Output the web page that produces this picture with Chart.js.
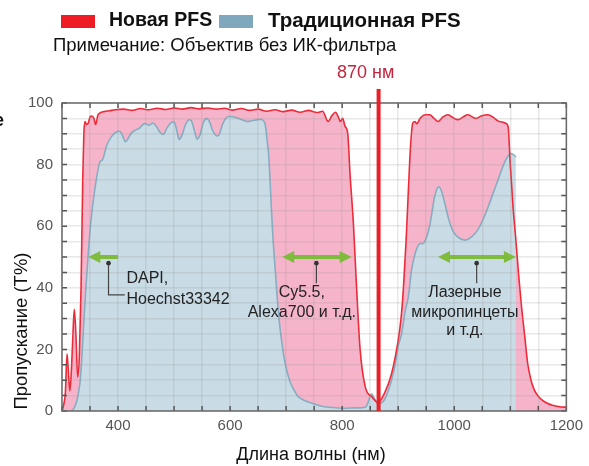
<!DOCTYPE html>
<html lang="ru">
<head>
<meta charset="utf-8">
<script src="https://cdn.jsdelivr.net/npm/chart.js@4.4.1/dist/chart.umd.min.js"></script>
<style>
  html, body { margin: 0; padding: 0; background: #fff; }
  #wrap { width: 589px; height: 466px; }
</style>
</head>
<body>
<div id="wrap"><canvas id="pfsChart" width="589" height="466"></canvas></div>
<script>
const seriesNames = ['Новая PFS', 'Традиционная PFS'];

const newNm = [300,303,306,309,311,314,317,320,322,325,328,331,334,337,339,341,344,347,350,353,357,360,364,368,375,385,395,410,425,440,455,470,485,500,515,530,545,560,575,590,605,620,635,650,665,680,695,710,725,740,755,765,775,782,788,793,797,801,805,810,814,820,826,832,841,853,864,876,888,900,905,909,914,918,922,926,930,933,939,948,956,964,971,980,989,998,1007,1016,1024,1032,1039,1048,1060,1070,1078,1086,1092,1096,1100,1105,1110,1115,1120,1126,1131,1137,1143,1150,1157,1165,1175,1188,1200];
const newT = [0,2,6,18.5,14,6.5,14,27,33,24,11,18,40,75,90,94,93,93.5,95.5,95.8,95,93,96,96.8,97.2,97.5,97.8,98,97.6,98.2,97.8,98.3,97.9,98.4,98,98.5,98.1,98.4,98,98.3,97.7,98.2,97.6,98,97.3,97.8,97.2,97.7,97,97.6,96.9,97.3,94,96,97,95.5,94,95,92.5,90,77,61,39,20,8,4.6,2.8,6,12,23,30,39,55,71,86,93.5,94,93.3,95,96.2,96.2,95,94,95.5,96.2,95.2,94.6,95.5,96.2,95.5,95,95.8,96.2,95.3,94.2,93.8,93.4,92.5,80,66,55.5,44,34,24,15.5,10,6.8,4.8,3.5,2.6,1.9,1.4,1.2];

const oldNm = [317,322,326,329,332,335,338,341,344,347,350,353,356,359,362,365,368,372,375,379,383,388,394,400,405,410,413,417,424,431,438,447,456,462,468,475,481,487,494,500,505,509,514,520,526,531,537,541,546,552,558,563,569,575,580,586,592,598,610,622,630,640,650,657,662,666,669,672,675,678,681,684,687,691,696,702,708,715,722,734,746,760,776,799,820,841,845,848,852,855,859,864,870,876,882,888,894,900,906,912,918,924,930,935,939,945,951,956,959,962,965,969,972,976,980,985,989,995,1000,1010,1021,1031,1042,1051,1060,1069,1078,1086,1092,1097,1101,1105,1110];
const oldT = [0,1,3,5.5,9,16,26,35,43.5,51.5,58.5,64,68.5,72.5,76,79,81,81.5,83,85.8,87.5,89,90.2,90.8,90.5,88.5,87.4,88.2,90.3,91.2,91.8,93.3,92.8,93.5,92.5,90.5,89.8,91.8,93.5,93.8,91,88.2,89.5,92.8,94.5,94.2,90.5,88.3,89.5,93.5,95,94,91,89.4,89.6,92.8,95,95.6,95.3,94.5,94,94.3,94.6,94.6,93.5,88,82.6,72,61,52,44.7,37,30.6,24,17.6,12.5,9,6.5,4.6,3.3,2.5,1.7,1.2,0.9,1,1.2,2.2,3.8,5.5,5,3.6,2.2,2.6,3.8,6.5,10,14.5,21,25,32,37,46,51,53.5,54.4,54.4,56.6,60,63,66.5,69.6,72,72.8,72,69.6,66,63,59.5,57.7,56,55.5,56.5,58.8,62,66,70.5,75,79,81.5,83,83.6,83.3,82.5];

const xLabelValues = [400, 600, 800, 1000, 1200];
const yLabelValues = [0, 20, 40, 60, 80, 100];
const cutoffNm = 865;
const cutoffLabel = '870 нм';

const bands = [
  { from: 400, to: 347, y: 50, both: false, leader: [[383, 48], [383, 37.7], [412, 37.7]],
    textNm: 415, align: 'left', lines: ['DAPI,', 'Hoechst33342'], lineY: [42.9, 36.2] },
  { from: 693, to: 817, y: 50, both: true, leader: [[754, 48], [754, 41.5]],
    textNm: 728, align: 'center', lines: ['Cy5.5,', 'Alexa700 и т.д.'], lineY: [38.3, 32] },
  { from: 971, to: 1110, y: 50, both: true, leader: [[1040, 48], [1040, 41.5]],
    textNm: 1019, align: 'center', lines: ['Лазерные', 'микропинцеты', 'и т.д.'], lineY: [38.3, 31.8, 26] }
];

const FONT = '"Liberation Sans", Arial, sans-serif';
const RED = '#ee2a38';
const PINK = '#f6b4cb';
const BLUE_LINE = '#86adc1';
const BLUE_FILL = '#c9dce6';
const GREEN = '#7fbb3d';

function points(xs, ys) { return xs.map((x, i) => ({ x, y: ys[i] })); }

function arrowHead(ctx, x, y, dir) {
  ctx.beginPath();
  ctx.moveTo(x, y);
  ctx.lineTo(x - dir * 12, y - 6);
  ctx.lineTo(x - dir * 12, y + 6);
  ctx.closePath();
  ctx.fill();
}

const extras = {
  id: 'extras',
  afterDraw(chart) {
    const { ctx, chartArea: a, scales: { x, y } } = chart;
    ctx.save();

    ctx.strokeStyle = '#555';
    ctx.lineWidth = 1.5;
    x.ticks.forEach(t => {
      const px = x.getPixelForValue(t.value);
      ctx.beginPath();
      ctx.moveTo(px, a.bottom); ctx.lineTo(px, a.bottom - 5);
      ctx.moveTo(px, a.top); ctx.lineTo(px, a.top + 5);
      ctx.stroke();
    });
    y.ticks.forEach(t => {
      const py = y.getPixelForValue(t.value);
      ctx.beginPath();
      ctx.moveTo(a.left, py); ctx.lineTo(a.left + 5, py);
      ctx.moveTo(a.right, py); ctx.lineTo(a.right - 5, py);
      ctx.stroke();
    });
    ctx.strokeStyle = '#6a6a6a';
    ctx.strokeRect(a.left, a.top, a.right - a.left, a.bottom - a.top);

    bands.forEach(b => {
      const x1 = x.getPixelForValue(b.from), x2 = x.getPixelForValue(b.to);
      const py = y.getPixelForValue(b.y);
      const dir = Math.sign(x2 - x1);
      ctx.strokeStyle = GREEN; ctx.fillStyle = GREEN; ctx.lineWidth = 4;
      ctx.beginPath();
      ctx.moveTo(x1 + (b.both ? dir * 8 : 0), py);
      ctx.lineTo(x2 - dir * 8, py);
      ctx.stroke();
      arrowHead(ctx, x2, py, dir);
      if (b.both) arrowHead(ctx, x1, py, -dir);

      ctx.strokeStyle = '#444'; ctx.fillStyle = '#333'; ctx.lineWidth = 1.2;
      ctx.beginPath();
      b.leader.forEach(([nm, v], i) => {
        const px = x.getPixelForValue(nm), vy = y.getPixelForValue(v);
        if (i === 0) ctx.moveTo(px, vy); else ctx.lineTo(px, vy);
      });
      ctx.stroke();
      ctx.beginPath();
      ctx.arc(x.getPixelForValue(b.leader[0][0]), y.getPixelForValue(b.leader[0][1]), 2.3, 0, Math.PI * 2);
      ctx.fill();

      ctx.fillStyle = '#222';
      ctx.font = '16px ' + FONT;
      ctx.textAlign = b.align;
      ctx.textBaseline = 'middle';
      b.lines.forEach((txt, i) => ctx.fillText(txt, x.getPixelForValue(b.textNm), y.getPixelForValue(b.lineY[i])));
    });

    const cx = x.getPixelForValue(cutoffNm);
    ctx.strokeStyle = '#e8202a'; ctx.lineWidth = 4;
    ctx.beginPath(); ctx.moveTo(cx, 89); ctx.lineTo(cx, a.bottom); ctx.stroke();
    ctx.fillStyle = '#c2263e';
    ctx.font = '18px ' + FONT;
    ctx.textAlign = 'center'; ctx.textBaseline = 'middle';
    ctx.fillText(cutoffLabel, cx - 13, 73);

    ctx.fillStyle = '#ee1c25'; ctx.fillRect(61, 15, 34, 13);
    ctx.fillStyle = '#7fa8bd'; ctx.fillRect(219, 15, 34, 13);
    ctx.fillStyle = '#111';
    ctx.font = 'bold 19.5px ' + FONT;
    ctx.textAlign = 'left';
    ctx.fillText(seriesNames[0], 109, 21);
    ctx.font = 'bold 20.5px ' + FONT;
    ctx.fillText(seriesNames[1], 268, 21);
    ctx.font = '18.5px ' + FONT;
    ctx.fillText('Примечание: Объектив без ИК-фильтра', 53, 46);
    ctx.font = 'bold 18px ' + FONT;
    ctx.textAlign = 'right';
    ctx.fillText('е', 4, 121);

    ctx.fillStyle = '#111';
    ctx.font = '18px ' + FONT;
    ctx.textAlign = 'center';
    ctx.fillText('Длина волны (нм)', 311, 455);
    ctx.font = '18.5px ' + FONT;
    ctx.translate(22, 331);
    ctx.rotate(-Math.PI / 2);
    ctx.fillText('Пропускание (T%)', 0, 0);
    ctx.restore();
  }
};

new Chart(document.getElementById('pfsChart'), {
  type: 'line',
  data: {
    datasets: [
      { label: seriesNames[0], data: points(newNm, newT), borderColor: RED, fill: false,
        borderWidth: 1.6, pointRadius: 0, cubicInterpolationMode: 'monotone' },
      { label: seriesNames[1], data: points(oldNm, oldT), borderColor: BLUE_LINE, backgroundColor: BLUE_FILL,
        fill: 'origin', borderWidth: 1.6, pointRadius: 0, tension: 0.35 },
      { label: seriesNames[0] + ' fill', data: points(newNm, newT), borderWidth: 0, backgroundColor: PINK,
        fill: 'origin', pointRadius: 0, cubicInterpolationMode: 'monotone' }
    ]
  },
  options: {
    responsive: false,
    animation: false,
    layout: { padding: { left: 0, right: 20, top: 103, bottom: 0 } },
    plugins: { legend: { display: false }, tooltip: { enabled: false } },
    scales: {
      x: {
        type: 'linear', min: 300, max: 1200,
        afterFit: s => { s.height = 55; },
        grid: { color: 'rgba(150,150,150,0.22)', lineWidth: 1.5, drawTicks: false, z: 1 },
        border: { display: false },
        ticks: {
          stepSize: 50, autoSkip: false, maxRotation: 0, padding: 6,
          color: '#555', font: { family: FONT, size: 15 },
          callback: v => xLabelValues.includes(v) ? v : ''
        }
      },
      y: {
        min: 0, max: 100,
        afterFit: s => { s.width = 62; },
        grid: { color: 'rgba(150,150,150,0.22)', lineWidth: 1.5, drawTicks: false, z: 1 },
        border: { display: false },
        ticks: {
          stepSize: 5, autoSkip: false, padding: 9,
          color: '#555', font: { family: FONT, size: 15 },
          callback: v => yLabelValues.includes(v) ? v : ''
        }
      }
    }
  },
  plugins: [extras]
});
</script>
</body>
</html>
